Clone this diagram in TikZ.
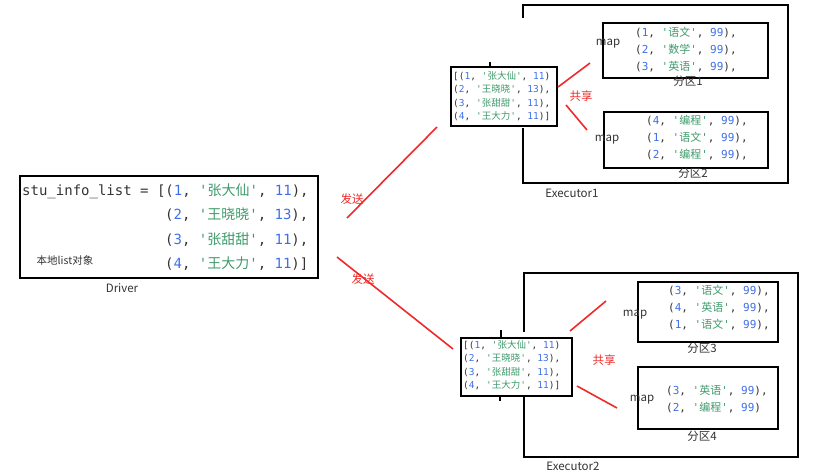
\documentclass[tikz,border=0pt]{standalone}
\usepackage{fontspec}
\setmonofont{DejaVu Sans Mono}
\newfontfamily\cjk{Noto Sans CJK SC}
\usetikzlibrary{positioning}
\definecolor{numblue}{HTML}{3F6FE8}
\definecolor{strgreen}{HTML}{3E9A6B}
\definecolor{txtgray}{HTML}{333333}
\definecolor{sendred}{HTML}{EE2A2A}
\newcommand{\tup}[3]{(\textcolor{numblue}{#1}, \textcolor{strgreen}{'{\cjk #2}'}, \textcolor{numblue}{#3})}
\tikzset{
  drvbox/.style={draw=black, line width=2.2pt, minimum width=298pt, minimum height=102pt, inner sep=0pt},
  lstbox/.style={draw=black, line width=1.8pt, inner sep=0pt},
  partbox/.style={draw=black, line width=1.8pt, inner sep=0pt},
  execline/.style={draw=black, line width=1.8pt},
  redline/.style={draw=sendred, line width=1.6pt},
  redlabel/.style={text=sendred, font=\cjk\fontsize{11.5}{13}\selectfont, inner sep=0pt},
  lbl/.style={text=txtgray, font=\cjk\fontsize{11.5}{13}\selectfont, inner sep=0pt},
  drvcode/.style={text=txtgray, font=\ttfamily\fontsize{14}{24.5}\selectfont, align=left, inner sep=0pt, anchor=west},
  lstcode/.style={text=txtgray, font=\ttfamily\fontsize{9.5}{13.5}\selectfont, align=left, inner sep=0pt, anchor=west},
  partcode/.style={text=txtgray, font=\ttfamily\fontsize{11}{17}\selectfont, align=left, inner sep=0pt, anchor=west}
}
\begin{document}
\begin{tikzpicture}[x=1pt, y=-1pt]
  \useasboundingbox (0,0) rectangle (816,472);

  % driver
  \node[drvbox] (drv) at (169,227) {};
  \node[drvcode] (row1) at (22,191) {stu\_info\_list = [\tup{1}{张大仙}{11},};
  \node[drvcode] (rows) at (165,239.5) {\tup{2}{王晓晓}{13},\\ \tup{3}{张甜甜}{11},\\ \tup{4}{王大力}{11}]};
  \node[lbl, font=\cjk\fontsize{10.5}{12}\selectfont] (local) at (65,260) {本地list对象};
  \node[lbl] (drvname) at (122,288) {Driver};

  % executor 1
  \node[lstbox, minimum width=106pt, minimum height=59pt] (lst1) at (504,96.5) {};
  \node[lstcode] (lst1txt) at (453,96) {[\tup{1}{张大仙}{11}\\ \tup{2}{王晓晓}{13},\\ \tup{3}{张甜甜}{11},\\ \tup{4}{王大力}{11}]};
  \draw[execline] (523,18) -- (523,5) -- (788,5) -- (788,183) -- (523,183) -- (523,128);
  \draw[execline] (490,62) -- (lst1.north -| 490,0);
  \node[lbl] (exec1) at (572,193) {Executor1};

  \node[partbox, minimum width=165pt, minimum height=55pt] (part1) at (685.5,50.5) {};
  \node[partcode] (part1txt) at (635,50) {\tup{1}{语文}{99},\\ \tup{2}{数学}{99},\\ \tup{3}{英语}{99},};
  \node[lbl] (map1) at (608,44) {map};
  \node[lbl] (name1) at (688,81) {分区1};

  \node[partbox, minimum width=164pt, minimum height=56pt] (part2) at (686,140) {};
  \node[partcode] (part2txt) at (646,138) {\tup{4}{编程}{99},\\ \tup{1}{语文}{99},\\ \tup{2}{编程}{99},};
  \node[lbl] (map2) at (607,140) {map};
  \node[lbl] (name2) at (693,173) {分区2};

  \coordinate (sh1a) at (558,87);
  \coordinate (sh1b) at (590,63);
  \coordinate (sh1c) at (566,105);
  \coordinate (sh1d) at (587,130);
  \draw[redline] (sh1a) -- (sh1b);
  \draw[redline] (sh1c) -- (sh1d);
  \node[redlabel] (share1) at (581,96) {共享};

  % executor 2
  \node[lstbox, minimum width=111pt, minimum height=58pt] (lst2) at (516.5,367) {};
  \node[lstcode] (lst2txt) at (463,365) {[\tup{1}{张大仙}{11}\\ \tup{2}{王晓晓}{13},\\ \tup{3}{张甜甜}{11},\\ \tup{4}{王大力}{11}]};
  \draw[execline] (524,332) -- (524,273) -- (798,273) -- (798,457) -- (524,457) -- (524,397);
  \draw[execline] (501,330) -- (lst2.north -| 501,0);
  \draw[execline] (lst2.south -| 500,0) -- (500,401);
  \node[lbl] (exec2) at (573,466) {Executor2};

  \node[partbox, minimum width=140pt, minimum height=60pt] (part3) at (708,312) {};
  \node[partcode] (part3txt) at (668,308) {\tup{3}{语文}{99},\\ \tup{4}{英语}{99},\\ \tup{1}{语文}{99},};
  \node[lbl] (map3) at (635,315) {map};
  \node[lbl] (name3) at (702,348) {分区3};

  \node[partbox, minimum width=140pt, minimum height=62pt] (part4) at (708,398) {};
  \node[partcode] (part4txt) at (666,399.5) {\tup{3}{英语}{99},\\ \tup{2}{编程}{99}};
  \node[lbl] (map4) at (642,400) {map};
  \node[lbl] (name4) at (702,436) {分区4};

  \coordinate (sh2a) at (570,331);
  \coordinate (sh2b) at (606,301);
  \coordinate (sh2c) at (577,386);
  \coordinate (sh2d) at (617,408);
  \draw[redline] (sh2a) -- (sh2b);
  \draw[redline] (sh2c) -- (sh2d);
  \node[redlabel] (share2) at (604,360) {共享};

  % send
  \coordinate (snd1a) at (347,218);
  \coordinate (snd1b) at (437,127);
  \coordinate (snd2a) at (337,257);
  \coordinate (snd2b) at (453,349);
  \draw[redline] (snd1a) -- (snd1b);
  \draw[redline] (snd2a) -- (snd2b);
  \node[redlabel] (send1) at (352,199) {发送};
  \node[redlabel] (send2) at (363,279) {发送};
\end{tikzpicture}
\end{document}
